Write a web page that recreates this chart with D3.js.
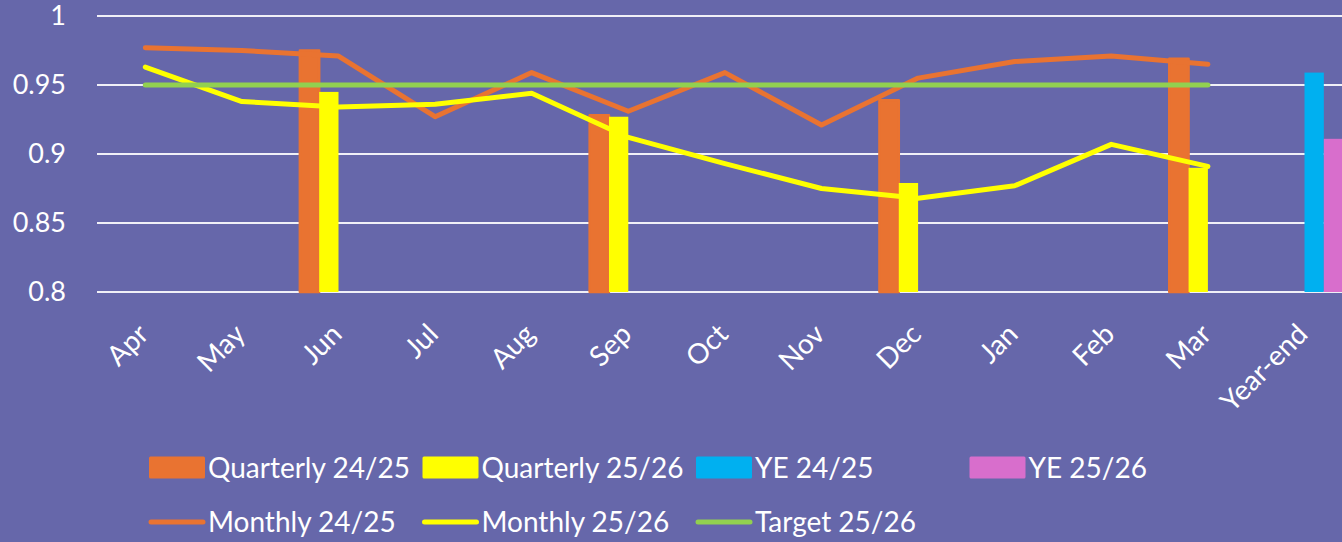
<!DOCTYPE html>
<html>
<head>
<meta charset="utf-8">
<script src="https://cdn.jsdelivr.net/npm/d3@7"></script>
<style>
  body { margin: 0; background: #6667aa; }
  svg { display: block; font-family: Lato, "Open Sans", sans-serif; }
</style>
</head>
<body>
<div id="chart"></div>
<script>
// Data
const categories = ['Apr', 'May', 'Jun', 'Jul', 'Aug', 'Sep', 'Oct', 'Nov', 'Dec', 'Jan', 'Feb', 'Mar', 'Year-end']
const monthly2425 = [0.977, 0.975, 0.971, 0.927, 0.959, 0.931, 0.959, 0.921, 0.955, 0.967, 0.971, 0.965]
const monthly2526 = [0.963, 0.938, 0.934, 0.936, 0.944, 0.912, 0.893, 0.875, 0.868, 0.877, 0.907, 0.891]
const target2526 = [0.95, 0.95, 0.95, 0.95, 0.95, 0.95, 0.95, 0.95, 0.95, 0.95, 0.95, 0.95]
const quarterly2425 = [null, null, 0.975, null, null, 0.928, null, null, 0.939, null, null, 0.969, null]
const quarterly2526 = [null, null, 0.945, null, null, 0.927, null, null, 0.879, null, null, 0.890, null]
const ye2425 = [null, null, null, null, null, null, null, null, null, null, null, null, 0.959]
const ye2526 = [null, null, null, null, null, null, null, null, null, null, null, null, 0.911]
const yTicks = [0.8, 0.85, 0.9, 0.95, 1]

const colors = {
  q2425: '#e97331', q2526: '#ffff00', ye2425: '#00b0f0', ye2526: '#d86ecc',
  m2425: '#e97331', m2526: '#ffff00', target: '#92d050'
}

const w = 1342, h = 542

const svg = d3.select('#chart').append('svg')
  .attr('width', w)
  .attr('height', h)

svg.append('rect').attr('width', w).attr('height', h).attr('fill', '#6667aa')

// scales
const x = d3.scaleBand().domain(categories).range([97, 97 + 13 * 96.6])
const bw = x.bandwidth()
const cx = c => x(c) + bw / 2

const barSeries = [
  {key: 'q2425', values: quarterly2425},
  {key: 'q2526', values: quarterly2526},
  {key: 'ye2425', values: ye2425},
  {key: 'ye2526', values: ye2526}
]
const xSub = d3.scaleBand().domain(barSeries.map(s => s.key)).range([bw * 0.1, bw * 0.9])

const y = d3.scaleLinear().domain([0.8, 1]).range([292, 16])

// gridlines + y labels
svg.append('g').selectAll('line')
  .data(yTicks)
  .enter().append('line')
  .attr('x1', 97).attr('x2', w)
  .attr('y1', d => y(d)).attr('y2', d => y(d))
  .attr('stroke', '#ffffff').attr('stroke-width', 2).attr('stroke-opacity', 0.9)

svg.append('g').selectAll('text')
  .data(yTicks)
  .enter().append('text')
  .attr('x', 66)
  .attr('y', d => y(d))
  .attr('dy', '0.35em')
  .attr('text-anchor', 'end')
  .attr('fill', '#ffffff')
  .attr('font-size', 27)
  .text(d => d3.format('~g')(d))

// x labels, rotated
svg.append('g').selectAll('text')
  .data(categories)
  .enter().append('text')
  .attr('transform', d => 'translate(' + (cx(d) - 2) + ',329) rotate(-45)')
  .attr('text-anchor', 'end')
  .attr('dy', '0.35em')
  .attr('fill', '#ffffff')
  .attr('font-size', 28)
  .text(d => d)

// bars
barSeries.forEach(s => {
  const pts = categories.map((c, i) => ({c: c, v: s.values[i]})).filter(d => d.v != null)
  svg.append('g').selectAll('rect')
    .data(pts)
    .enter().append('rect')
    .attr('x', d => x(d.c) + xSub(s.key))
    .attr('width', xSub.bandwidth())
    .attr('y', d => y(d.v))
    .attr('height', d => y(0.8) - y(d.v))
    .attr('fill', colors[s.key])
    .attr('stroke', s.key == 'q2425' ? colors[s.key] : 'none')
    .attr('stroke-width', 2.5)
    .attr('stroke-linejoin', 'round')
})

// lines
const line = d3.line()
  .x((d, i) => cx(categories[i]))
  .y(d => y(d))

const lineSeries = [
  {key: 'm2425', values: monthly2425},
  {key: 'm2526', values: monthly2526},
  {key: 'target', values: target2526}
]
lineSeries.forEach(s => {
  svg.append('path')
    .datum(s.values)
    .attr('d', line)
    .attr('fill', 'none')
    .attr('stroke', colors[s.key])
    .attr('stroke-width', 5)
    .attr('stroke-linecap', 'round')
    .attr('stroke-linejoin', 'round')
})

// legend
const legend = [
  {name: 'Quarterly 24/25', key: 'q2425', type: 'bar'},
  {name: 'Quarterly 25/26', key: 'q2526', type: 'bar'},
  {name: 'YE 24/25', key: 'ye2425', type: 'bar'},
  {name: 'YE 25/26', key: 'ye2526', type: 'bar'},
  {name: 'Monthly 24/25', key: 'm2425', type: 'line'},
  {name: 'Monthly 25/26', key: 'm2526', type: 'line'},
  {name: 'Target 25/26', key: 'target', type: 'line'}
]

const lg = svg.append('g').selectAll('g')
  .data(legend)
  .enter().append('g')
  .attr('transform', (d, i) => 'translate(' + (149 + (i % 4) * 273.5) + ',' + (i < 4 ? 467.5 : 522) + ')')

lg.filter(d => d.type == 'bar').append('rect')
  .attr('x', 0).attr('y', -11)
  .attr('width', 56).attr('height', 22)
  .attr('rx', 1.5)
  .attr('fill', d => colors[d.key])

lg.filter(d => d.type == 'line').append('line')
  .attr('x1', 2).attr('x2', 54)
  .attr('stroke', d => colors[d.key])
  .attr('stroke-width', 5)
  .attr('stroke-linecap', 'round')

lg.append('text')
  .attr('x', 59)
  .attr('dy', '0.36em')
  .attr('fill', '#ffffff')
  .attr('font-size', 28)
  .text(d => d.name)
</script>
</body>
</html>
